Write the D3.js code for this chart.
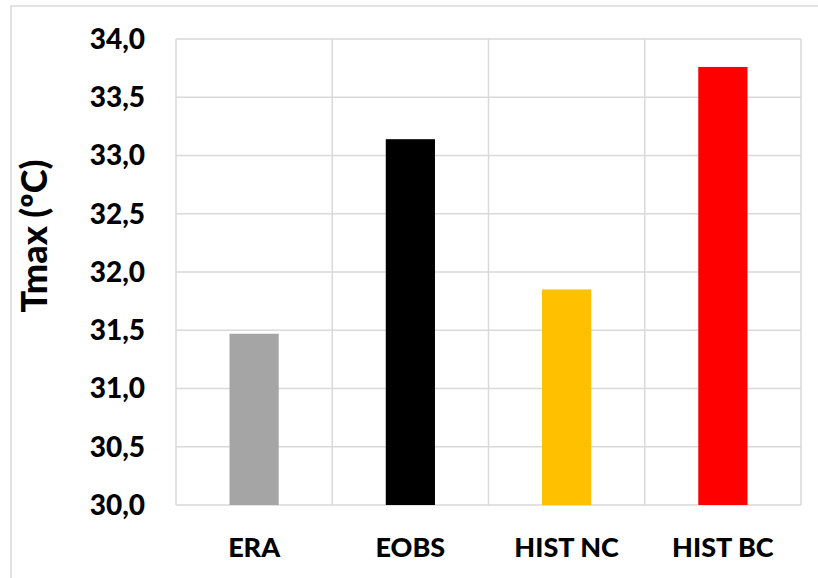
<!DOCTYPE html>
<html><head><meta charset="utf-8">
<script src="https://cdn.jsdelivr.net/npm/d3@7"></script>
<style>body{margin:0;background:#fff}svg{display:block}</style>
</head><body>
<svg id="c" width="818" height="578"></svg>
<script>
const categories = ["ERA", "EOBS", "HIST NC", "HIST BC"];
const values = [31.47, 33.14, 31.85, 33.76];
const colors = ["#a5a5a5", "#000000", "#ffc000", "#ff0000"];
const yTicks = [30.0, 30.5, 31.0, 31.5, 32.0, 32.5, 33.0, 33.5, 34.0];
const yLabel = "Tmax (ºC)";

const svg = d3.select("#c");
const font = "Lato, 'Open Sans', sans-serif";
const m = {left: 176, right: 801, top: 39, bottom: 505};

svg.append("rect").attr("x", 11).attr("y", 6).attr("width", 830).attr("height", 600)
  .attr("fill", "#fff").attr("stroke", "#d9d9d9").attr("stroke-width", 1.5);

const x = d3.scaleBand().domain(categories).range([m.left, m.right]).padding(0);
const y = d3.scaleLinear().domain([30, 34]).range([m.bottom, m.top]);

svg.append("g").selectAll("line").data(yTicks).join("line")
  .attr("x1", m.left).attr("x2", m.right)
  .attr("y1", d => y(d)).attr("y2", d => y(d))
  .attr("stroke", "#d9d9d9").attr("stroke-width", 1.5);
const vx = categories.map(c => x(c)).concat([m.right]);
svg.append("g").selectAll("line").data(vx).join("line")
  .attr("x1", d => d).attr("x2", d => d)
  .attr("y1", m.top).attr("y2", m.bottom)
  .attr("stroke", "#d9d9d9").attr("stroke-width", 1.5);

const bw = x.bandwidth() * 0.315;
svg.append("g").selectAll("rect").data(categories).join("rect")
  .attr("x", c => x(c) + x.bandwidth() / 2 - bw / 2)
  .attr("width", bw)
  .attr("y", (c, i) => y(values[i]))
  .attr("height", (c, i) => y(30) - y(values[i]))
  .attr("fill", (c, i) => colors[i]);

svg.append("g").selectAll("text").data(yTicks).join("text")
  .attr("x", 145).attr("y", d => y(d)).attr("dy", "0.35em")
  .attr("text-anchor", "end")
  .attr("font-family", font).attr("font-weight", 900).attr("font-size", 28)
  .attr("fill", "#000")
  .text(d => d.toFixed(1).replace(".", ","));

svg.append("g").selectAll("text").data(categories).join("text")
  .attr("x", c => x(c) + x.bandwidth() / 2).attr("y", 557)
  .attr("text-anchor", "middle")
  .attr("font-family", font).attr("font-weight", 900).attr("font-size", 27)
  .attr("fill", "#000")
  .text(c => c);

svg.append("text")
  .attr("transform", "translate(47,236) rotate(-90)")
  .attr("text-anchor", "middle")
  .attr("font-family", font).attr("font-weight", 900).attr("font-size", 36)
  .attr("fill", "#000")
  .text(yLabel);
</script>
</body></html>
